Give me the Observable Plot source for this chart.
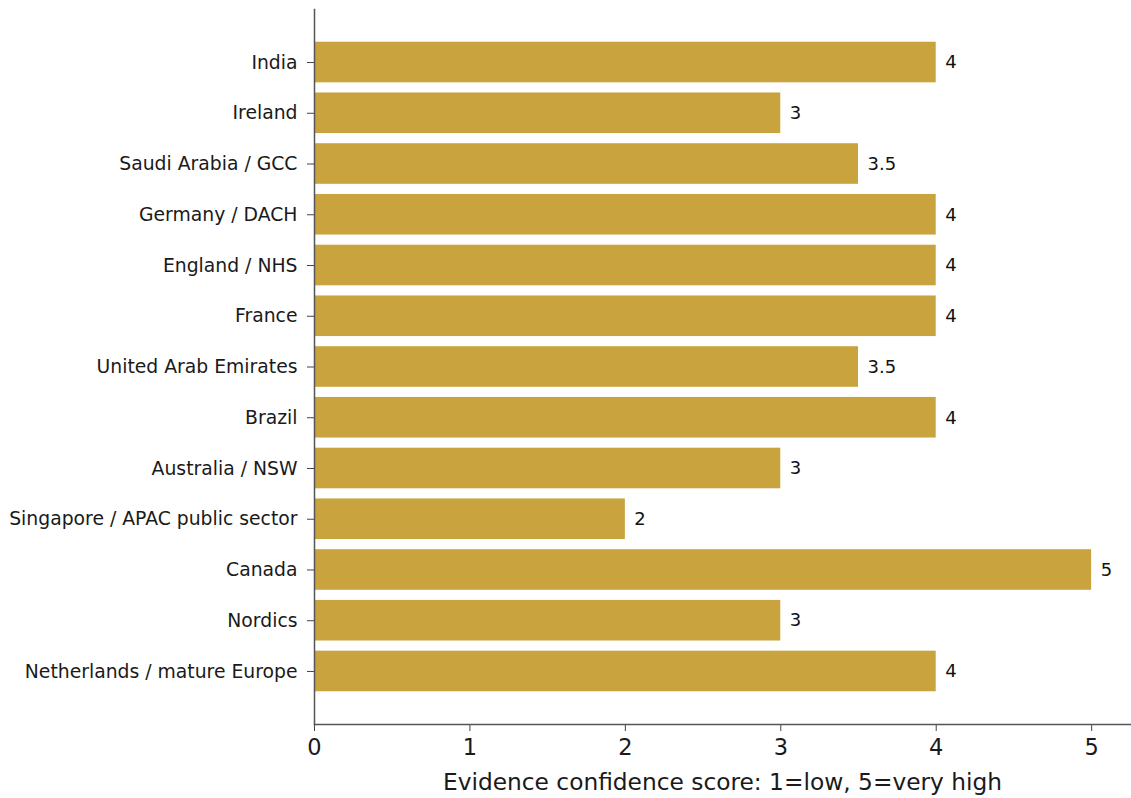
<!DOCTYPE html>
<html>
<head>
<meta charset="utf-8">
<script src="https://cdn.jsdelivr.net/npm/d3@7"></script>
<script src="https://cdn.jsdelivr.net/npm/@observablehq/plot@0.6"></script>
<style>
  html, body { margin: 0; padding: 0; background: #fff; }
  #chart svg { display: block; }
</style>
</head>
<body>
<div id="chart"></div>
<script>
const regions = [
  "India", "Ireland", "Saudi Arabia / GCC", "Germany / DACH", "England / NHS",
  "France", "United Arab Emirates", "Brazil", "Australia / NSW",
  "Singapore / APAC public sector", "Canada", "Nordics", "Netherlands / mature Europe"
];
const scores = [4, 3, 3.5, 4, 4, 4, 3.5, 4, 3, 2, 5, 3, 4];
const xTicks = [0, 1, 2, 3, 4, 5];
const xLabel = "Evidence confidence score: 1=low, 5=very high";

const data = regions.map((r, i) => ({region: r, score: scores[i]}));

const chart = Plot.plot({
  width: 1131,
  height: 798,
  marginLeft: 314,
  marginRight: 1,
  marginTop: 9,
  marginBottom: 74,
  style: {fontFamily: "DejaVu Sans, sans-serif", background: "#fff", color: "#1a1a1a"},
  x: {domain: [0, 5.25]},
  y: {domain: regions, paddingInner: 0.2, paddingOuter: 0.645, align: 0.5, round: false},
  marks: [
    Plot.barX(data, {x: "score", y: "region", fill: "#C9A33E"}),
    Plot.text(data, {x: "score", y: "region", text: d => String(d.score), textAnchor: "start", dx: 9, fontSize: 18, fill: "#111"}),
    Plot.axisY({tickSize: 7, tickPadding: 10, fontSize: 18.8, label: null, stroke: "#444"}),
    Plot.axisX({ticks: xTicks, tickFormat: d => String(d), tickSize: 7, tickPadding: 8, fontSize: 22.5, label: null, stroke: "#444"}),
    Plot.text([xLabel], {frameAnchor: "bottom", dy: 58, fontSize: 23.3, fill: "#1a1a1a", lineAnchor: "middle"}),
    Plot.frame({anchor: "left", stroke: "#555", strokeWidth: 1.5}),
    Plot.frame({anchor: "bottom", stroke: "#555", strokeWidth: 1.5})
  ]
});
document.getElementById("chart").appendChild(chart);
</script>
</body>
</html>
